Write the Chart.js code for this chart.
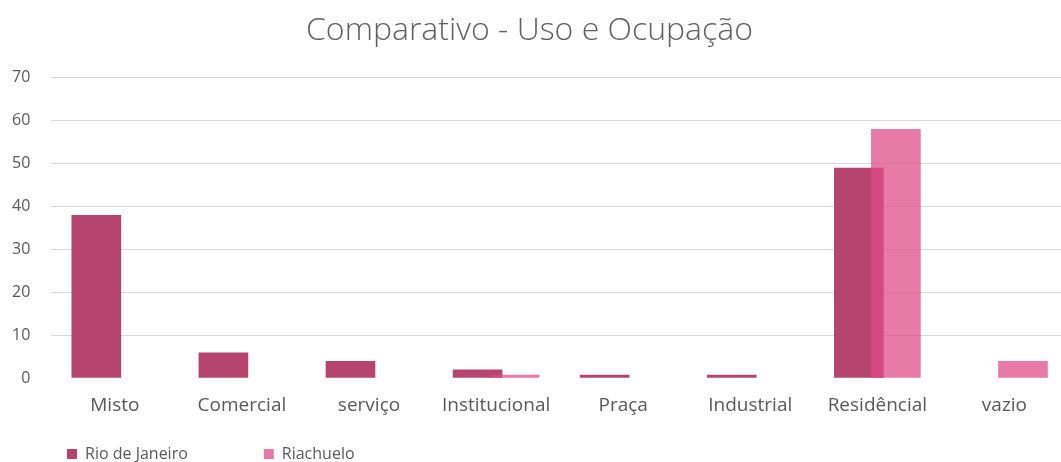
<!DOCTYPE html>
<html>
<head>
<meta charset="utf-8">
<script src="https://cdn.jsdelivr.net/npm/chart.js@4.4.1/dist/chart.umd.min.js"></script>
<style>
  html, body { margin: 0; padding: 0; background: #fff; overflow: hidden; }
  #wrap { width: 1088px; height: 462px; }
</style>
</head>
<body>
<div id="wrap"><canvas id="chart" width="1088" height="462"></canvas></div>
<script>
const categories = ['Misto', 'Comercial', 'serviço', 'Institucional', 'Praça', 'Industrial', 'Residêncial', 'vazio'];
const rioValues = [38, 6, 4, 2, 0.8, 0.8, 49, 0];
const riachueloValues = [0, 0, 0, 0.8, 0, 0, 58, 4];
const yTicks = [0, 10, 20, 30, 40, 50, 60, 70];

const textGray = '#595959';
const fontFamily = "'Open Sans', 'Noto Sans', sans-serif";

const ctx = document.getElementById('chart').getContext('2d');

// Riachuelo bars are drawn over the Rio bars (they overlap a bit)
const riachueloOnTop = {
    id: 'riachueloOnTop',
    beforeDatasetDraw(chart, args) {
        if (args.index === 0) return false;
        if (args.index === 1) chart.getDatasetMeta(0).controller.draw();
    }
};

// legend: wide spacing between items but not a tall box
const legendPlacement = {
    id: 'legendPlacement',
    beforeLayout(chart) {
        const legend = chart.legend;
        if (legend && !legend.$patched) {
            const fit = legend.fit;
            legend.fit = function () {
                fit.call(this);
                this.height = 29;
            };
            legend.$patched = true;
        }
    },
    afterLayout(chart) {
        chart.legend.top = 370;
    }
};

let chart = new Chart(ctx, {
    type: 'bar',
    data: {
        labels: categories,
        datasets: [
            {
                label: 'Rio de Janeiro',
                data: rioValues,
                backgroundColor: '#b5446e',
                borderWidth: 0
            },
            {
                label: 'Riachuelo',
                data: riachueloValues,
                backgroundColor: 'rgba(224, 73, 136, 0.73)',
                borderWidth: 0
            }
        ]
    },
    options: {
        responsive: false,
        animation: false,
        devicePixelRatio: 1,
        categoryPercentage: 0.583,
        barPercentage: 1.34,
        layout: { padding: { left: -9, right: 20, top: 0, bottom: 0 } },
        scales: {
            x: {
                grid: { display: false, drawTicks: false },
                border: { display: false },
                ticks: {
                    color: textGray,
                    font: { family: fontFamily, size: 19 },
                    padding: 16,
                    maxRotation: 0
                }
            },
            y: {
                min: 0,
                max: 70,
                afterBuildTicks: axis => {
                    axis.ticks = yTicks.map(v => ({ value: v }));
                },
                grid: {
                    color: c => c.tick && c.tick.value === 0 ? 'rgba(0,0,0,0)' : '#d9d9d9',
                    lineWidth: 1,
                    drawTicks: false
                },
                border: { display: false },
                ticks: {
                    color: textGray,
                    font: { family: fontFamily, size: 16 },
                    padding: 21
                }
            }
        },
        plugins: {
            title: {
                display: true,
                text: 'Comparativo - Uso e Ocupação',
                color: '#606060',
                font: { family: fontFamily, size: 32, weight: '300' },
                padding: { top: 12, bottom: 27 }
            },
            legend: {
                position: 'bottom',
                align: 'start',
                labels: {
                    boxWidth: 10,
                    boxHeight: 10,
                    padding: 76,
                    color: textGray,
                    font: { family: fontFamily, size: 16 }
                }
            },
            tooltip: { enabled: false }
        }
    },
    plugins: [riachueloOnTop, legendPlacement]
});
</script>
</body>
</html>
